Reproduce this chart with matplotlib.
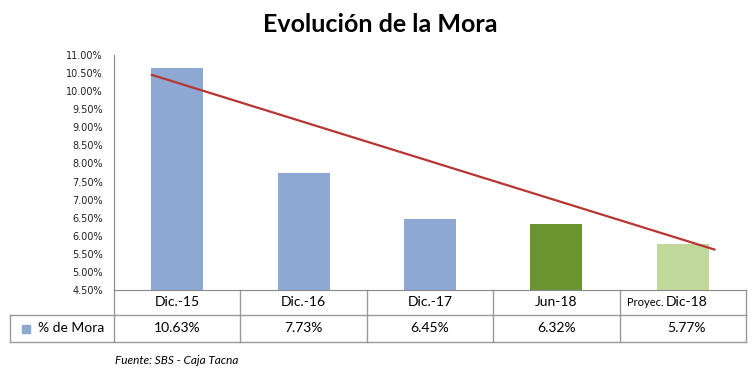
import matplotlib
matplotlib.use("Agg")
import matplotlib.pyplot as plt
from matplotlib.ticker import FuncFormatter, MultipleLocator
import matplotlib.transforms as mtransforms

# datos
categorias = ["Dic.-15", "Dic.-16", "Dic.-17", "Jun-18", "Dic-18"]
mora = [10.63, 7.73, 6.45, 6.32, 5.77]
colores = ["#8DA9D3", "#8DA9D3", "#8DA9D3", "#6A942F", "#C0D99B"]
tendencia_x = [-0.2, 4.25]
tendencia_y = [10.45, 5.62]

fig = plt.figure(figsize=(7.52, 3.83), dpi=100)
ax = fig.add_axes([114 / 752, 1 - 290 / 383, 632 / 752, 235 / 383])

x = list(range(len(categorias)))
ax.bar(x, mora, width=0.41, color=colores, zorder=2)
ax.plot(tendencia_x, tendencia_y, color="#B83532", lw=1.6, zorder=3)

ax.set_xlim(-0.5, 4.5)
ax.set_ylim(4.5, 11.0)
ax.yaxis.set_major_locator(MultipleLocator(0.5))
ax.yaxis.set_major_formatter(FuncFormatter(lambda v, p: "%.2f%%" % v))
ax.tick_params(axis="y", labelsize=7, length=0, pad=8, labelcolor="#222222")
ax.set_xticks([])
for s in ["top", "right"]:
    ax.spines[s].set_visible(False)
ax.spines["left"].set_color("#888888")
ax.spines["bottom"].set_color("#888888")

fig.text(0.505, 1 - 25 / 383, "Evolución de la Mora", ha="center", va="center",
         fontsize=18, fontweight="bold", family="Lato")

# tabla de datos
tr = mtransforms.blended_transform_factory(ax.transData, ax.transAxes)
gris = "#999999"
y0, y1, y2 = 0.0, -25 / 235, -52 / 235
xl = -0.5 - 104 / 126.4
kw = dict(transform=tr, clip_on=False, color=gris, lw=1)
ax.plot([xl, 4.5], [y1, y1], **kw)
ax.plot([xl, 4.5], [y2, y2], **kw)
ax.plot([xl, xl], [y1, y2], **kw)
for e in range(6):
    ax.plot([e - 0.5, e - 0.5], [y0, y2], **kw)

for i, c in enumerate(categorias):
    ym = (y0 + y1) / 2
    if i == 4:
        ax.text(i + 0.03, ym, c, transform=tr, ha="center", va="center",
                fontsize=10, family="Lato")
        ax.text(i - 0.30, ym, "Proyec.", transform=tr, ha="center", va="center",
                fontsize=8, family="Lato")
        xv = i + 0.03
    else:
        ax.text(i, ym, c, transform=tr, ha="center", va="center",
                fontsize=10, family="Lato")
        xv = i
    ax.text(xv, (y1 + y2) / 2, "%.2f%%" % mora[i], transform=tr, ha="center",
            va="center", fontsize=10, family="Lato")

ym = (y1 + y2) / 2
ax.plot([xl + 0.13], [ym], marker="s", ms=6, color="#8DA9D3", transform=tr,
        clip_on=False, lw=0)
ax.text(xl + 0.22, ym, "% de Mora", transform=tr, ha="left", va="center",
        fontsize=10, family="Lato")

fig.text(115 / 752, 1 - 360 / 383, "Fuente: SBS - Caja Tacna", ha="left",
         va="center", fontsize=8.5, style="italic", family="Lato")

fig.savefig("out.png", dpi=100)
